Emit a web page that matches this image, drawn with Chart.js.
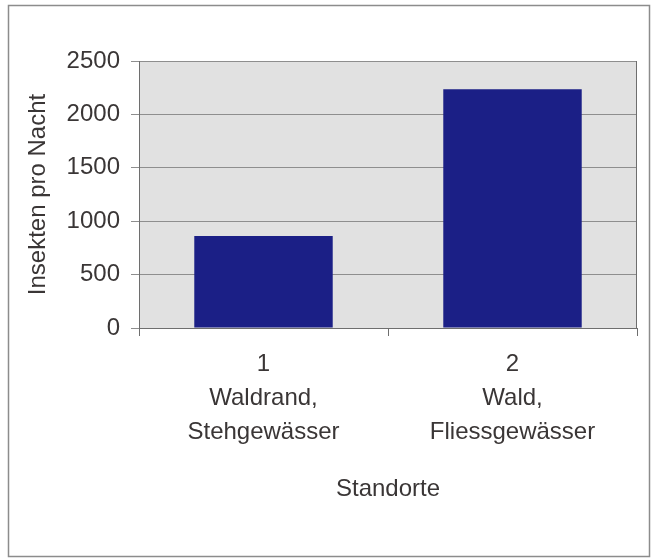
<!DOCTYPE html>
<html>
<head>
<meta charset="utf-8">
<script src="https://cdn.jsdelivr.net/npm/chart.js@4/dist/chart.umd.min.js"></script>
<style>
  html, body { margin: 0; padding: 0; background: #ffffff; }
  #c { display: block; }
</style>
</head>
<body>
<canvas id="c" width="656" height="559"></canvas>
<script>
const categoryNumbers = ['1', '2'];
const categoryNames = [['Waldrand,', 'Stehgewässer'], ['Wald,', 'Fliessgewässer']];
const insectsPerNight = [862, 2236];
const yMin = 0, yMax = 2500, yStep = 500;
const xTitle = 'Standorte';
const yTitle = 'Insekten pro Nacht';

const labels = categoryNumbers.map((n, i) => [n, ...categoryNames[i]]);

const FONT = "'Liberation Sans', Arial, Helvetica, sans-serif";
const TEXT = '#3a3636';

const framePlugin = {
  id: 'frame',
  beforeDraw(chart) {
    const { ctx, chartArea: a } = chart;
    ctx.save();
    ctx.fillStyle = '#ffffff';
    ctx.fillRect(0, 0, chart.width, chart.height);
    ctx.strokeStyle = '#8c8c8c';
    ctx.lineWidth = 1.5;
    ctx.strokeRect(8.5, 5.5, 641, 551);
    ctx.fillStyle = '#e1e1e1';
    ctx.fillRect(a.left, a.top, a.right - a.left, a.bottom - a.top);
    ctx.restore();
  },
  afterDatasetsDraw(chart) {
    const { ctx, chartArea: a } = chart;
    ctx.save();
    ctx.strokeStyle = '#6e6e6e';
    ctx.lineWidth = 1;
    ctx.beginPath();
    ctx.moveTo(Math.round(a.right) - 0.5, a.top);
    ctx.lineTo(Math.round(a.right) - 0.5, a.bottom);
    ctx.stroke();
    ctx.restore();
  }
};

new Chart(document.getElementById('c'), {
  type: 'bar',
  data: {
    labels: labels,
    datasets: [{
      data: insectsPerNight,
      backgroundColor: '#1b1f86',
      borderWidth: 0,
      categoryPercentage: 1.0,
      barPercentage: 0.556
    }]
  },
  options: {
    responsive: false,
    animation: false,
    devicePixelRatio: 1,
    layout: { padding: { top: 61, right: 19, left: 0, bottom: 0 } },
    plugins: { legend: { display: false }, tooltip: { enabled: false }, title: { display: false } },
    scales: {
      x: {
        afterFit(scale) { scale.height = 559 - 328; },
        grid: { offset: true, drawOnChartArea: false, drawTicks: true, tickLength: 8, color: '#6e6e6e' },
        border: { display: true, color: '#6e6e6e', width: 1 },
        ticks: {
          color: TEXT,
          padding: 12,
          maxRotation: 0,
          autoSkip: false,
          font: { family: FONT, size: 24, lineHeight: 1.4 }
        },
        title: {
          display: true,
          text: xTitle,
          color: TEXT,
          font: { family: FONT, size: 24 },
          padding: { top: 0, bottom: 55 }
        }
      },
      y: {
        min: yMin,
        max: yMax,
        afterFit(scale) { scale.width = 139; },
        grid: { drawOnChartArea: true, drawTicks: true, tickLength: 8, color: '#8e8e8e' },
        border: { display: true, color: '#6e6e6e', width: 1 },
        ticks: {
          stepSize: yStep,
          color: TEXT,
          padding: 11,
          font: { family: FONT, size: 24 },
          callback: (v) => String(v)
        },
        title: {
          display: true,
          text: yTitle,
          color: TEXT,
          font: { family: FONT, size: 24 },
          padding: { top: 24, bottom: 0 }
        }
      }
    }
  },
  plugins: [framePlugin]
});
</script>
</body>
</html>
